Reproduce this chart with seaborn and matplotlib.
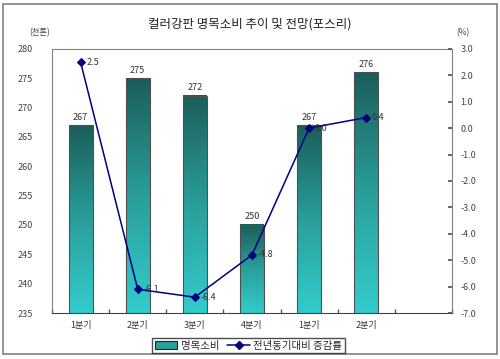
import numpy as np
import pandas as pd
import matplotlib.pyplot as plt
import seaborn as sns
from matplotlib.patches import Patch, Rectangle
from matplotlib.lines import Line2D

# chart data
quarters = ['1분기', '2분기', '3분기', '4분기', '1분기', '2분기']
consumption = [267, 275, 272, 250, 267, 276]      # 천톤
growth = [2.5, -6.1, -6.4, -4.8, 0.0, 0.4]        # %
left_ticks = [235, 240, 245, 250, 255, 260, 265, 270, 275, 280]
right_ticks = [3.0, 2.0, 1.0, 0.0, -1.0, -2.0, -3.0, -4.0, -5.0, -6.0, -7.0]

sns.set_theme(style="white")
plt.rcParams['font.family'] = ['Noto Sans CJK KR', 'DejaVu Sans']
plt.rcParams['axes.unicode_minus'] = False

df = pd.DataFrame({'pos': np.arange(len(quarters)), 'quarter': quarters,
                   'consumption': consumption, 'growth': growth})

fig = plt.figure(figsize=(5.0, 3.59), dpi=100)
ax = fig.add_axes([0.104, 0.128, 0.8, 0.736])

sns.barplot(data=df, x='pos', y='consumption', native_scale=True, width=0.42,
            color='#2a9a98', edgecolor='#505050', linewidth=0.8, ax=ax)
ax.set_ylim(235, 280)
ax.set_xlim(-0.5, 6.5)

# vertical gradient inside each bar
grad = np.linspace(0, 1, 256).reshape(-1, 1)
cmap = plt.matplotlib.colors.LinearSegmentedColormap.from_list(
    'teal', ['#33cccc', '#2a9e9a', '#1b5e5a'])
for p in ax.patches:
    x0, w, h = p.get_x(), p.get_width(), p.get_height()
    im = ax.imshow(grad, extent=[x0, x0 + w, 235, h], origin='lower',
                   aspect='auto', cmap=cmap, zorder=p.get_zorder())
    p.set_facecolor('none')
    p.set_zorder(p.get_zorder() + 0.1)
    ax.text(x0 + w / 2, h + 0.6, f'{int(h)}', ha='center', va='bottom',
            fontsize=6.5, color='#333333')
ax.set_xlim(-0.5, 6.5)
ax.set_ylim(235, 280)

ax.set_yticks(left_ticks)
ax.set_xticks(np.arange(len(quarters)))
ax.set_xticklabels(quarters)
ax.set_xticks(np.arange(-0.5, 7.0, 1.0), minor=True)
ax.tick_params(axis='x', which='major', length=0, labelsize=6.5, colors='#333333', pad=6)
ax.tick_params(axis='x', which='minor', direction='in', length=3, color='#555555', bottom=True)
ax.tick_params(axis='y', length=0, labelsize=6.5, colors='#444444', pad=14)
ax.set_xlabel('')
ax.set_ylabel('')
for s in ax.spines.values():
    s.set_color('#808080')
    s.set_linewidth(0.8)
ax.spines['bottom'].set_color('#404040')

ax2 = ax.twinx()
sns.lineplot(data=df, x='pos', y='growth', color='#000080', marker='D',
             markersize=4, markeredgecolor='#000080', linewidth=1.1, ax=ax2)
ax2.set_ylim(-7.0, 3.0)
ax2.set_yticks(right_ticks)
ax2.set_yticklabels([f'{v:.1f}' for v in right_ticks])
ax2.tick_params(axis='y', direction='in', length=3, color='#555555',
                labelsize=6.5, labelcolor='#444444', pad=6, right=True)
ax2.set_ylabel('')
ax2.set_xlim(-0.5, 6.5)
for s in ax2.spines.values():
    s.set_visible(False)
for x, v in zip(df['pos'], growth):
    ax2.annotate(f'{v:.1f}', (x, v), xytext=(4, 0), textcoords='offset points',
                 ha='left', va='center', fontsize=6.5, color='#333333')

fig.text(0.5, 0.932, '컬러강판 명목소비 추이 및 전망(포스리)', ha='center', va='center',
         fontsize=9, color='#222222')
fig.text(0.08, 0.908, '(천톤)', ha='center', va='center', fontsize=6, color='#444444')
fig.text(0.926, 0.908, '(%)', ha='center', va='center', fontsize=6, color='#444444')

handles = [Patch(facecolor='#2a9e9a', edgecolor='#222222', linewidth=0.8),
           Line2D([0], [0], color='#000080', marker='D', markersize=4, linewidth=1.1)]
fig.legend(handles, ['명목소비', '전년동기대비 증감률'], loc='center',
           bbox_to_anchor=(0.497, 0.037), ncol=2, fontsize=7.5, frameon=True,
           fancybox=False, edgecolor='#222222', borderpad=0.25, handlelength=2.2,
           handletextpad=0.3, columnspacing=0.8, borderaxespad=0)

fig.patches.append(Rectangle((0.006, 0.014), 0.988, 0.976, transform=fig.transFigure,
                             fill=False, edgecolor='#808080', linewidth=1.2))

fig.savefig('out.png', dpi=100)
plt.close(fig)
